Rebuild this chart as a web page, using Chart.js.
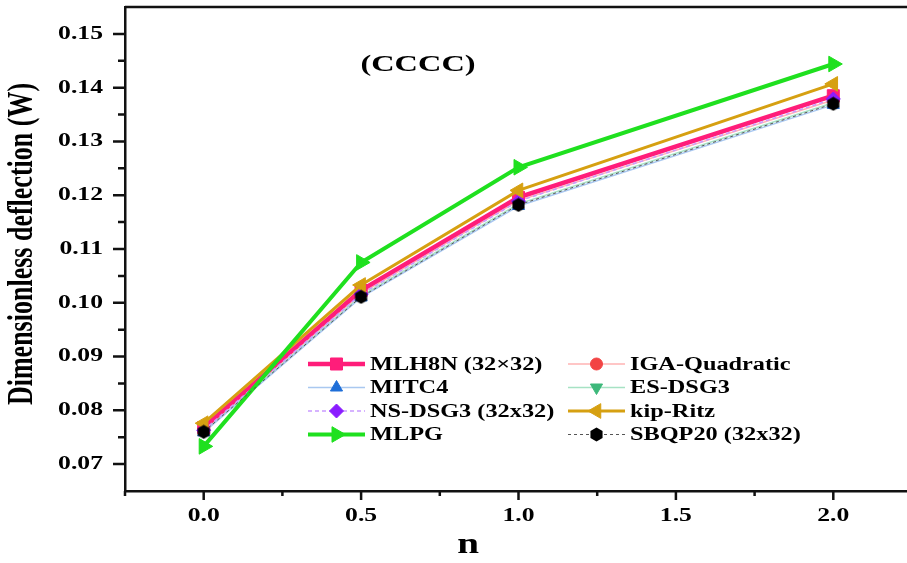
<!DOCTYPE html>
<html>
<head>
<meta charset="utf-8">
<script src="https://cdn.jsdelivr.net/npm/chart.js@4.4.0/dist/chart.umd.min.js"></script>
<style>
  html, body { margin: 0; padding: 0; background: #fff; overflow: hidden; }
  #wrap { width: 916px; height: 563px; }
</style>
</head>
<body>
<div id="wrap"><canvas id="deflectionChart"></canvas></div>
<script>
// Значения n (по оси X)
const N_VALUES = [0, 0.5, 1.0, 2.0];

// Безразмерный прогиб для каждого метода
const MLH8N = [0.0768, 0.1023, 0.1196, 0.1385];
const IGA_QUADRATIC = [0.0764, 0.1017, 0.1190, 0.1377];
const MITC4 = [0.0759, 0.1010, 0.1180, 0.1368];
const ES_DSG3 = [0.0761, 0.1013, 0.1184, 0.1372];
const NS_DSG3 = [0.0763, 0.1016, 0.1189, 0.1379];
const KIP_RITZ = [0.0776, 0.1033, 0.1209, 0.1407];
const MLPG = [0.0733, 0.1075, 0.1252, 0.1444];
const SBQP20 = [0.0760, 0.1011, 0.1182, 0.1370];

// Подписи делений
const X_TICKS = [0, 0.5, 1.0, 1.5, 2.0];
const X_MINOR = [-0.25, 0.25, 0.75, 1.25, 1.75];
const Y_TICKS = [0.07, 0.08, 0.09, 0.10, 0.11, 0.12, 0.13, 0.14, 0.15];
const Y_MINOR = [0.075, 0.085, 0.095, 0.105, 0.115, 0.125, 0.135, 0.145];

const SERIF = '"Liberation Serif", "Times New Roman", serif';
const STRETCH = 1.35; // текст на рисунке растянут по горизонтали

// Маркер-шестиугольник для SBQP20
function makeHexagon(size, color) {
    const c = document.createElement('canvas');
    c.width = size;
    c.height = size;
    const g = c.getContext('2d');
    const r = size / 2;
    g.fillStyle = color;
    g.beginPath();
    for (let i = 0; i < 6; i++) {
        const a = Math.PI / 6 + i * Math.PI / 3;
        const px = r + Math.cos(a) * (r - 0.5);
        const py = r + Math.sin(a) * (r - 0.5);
        if (i === 0) g.moveTo(px, py); else g.lineTo(px, py);
    }
    g.closePath();
    g.fill();
    return c;
}
const hexagon = makeHexagon(15, '#000');

function series(label, data, cfg) {
    return Object.assign({
        label: label,
        data: data,
        fill: false,
        tension: 0,
        pointBorderWidth: 1,
        pointRotation: 0
    }, cfg);
}

const datasets = [
    series('MLH8N (32×32)', MLH8N, {
        borderColor: '#ff1d7a', borderWidth: 4.5,
        pointStyle: 'rect', pointRadius: 8.5,
        pointBackgroundColor: '#ff1d7a', pointBorderColor: '#ff1d7a', order: 5,
        legendCol: 0, legendRow: 0
    }),
    series('IGA-Quadratic', IGA_QUADRATIC, {
        borderColor: '#ffb3b3', borderWidth: 1.5,
        pointStyle: 'circle', pointRadius: 6,
        pointBackgroundColor: '#f24444', pointBorderColor: '#f24444', order: 6,
        legendCol: 1, legendRow: 0
    }),
    series('MITC4', MITC4, {
        borderColor: '#a9c8f0', borderWidth: 1.5,
        pointStyle: 'triangle', pointRadius: 7,
        pointBackgroundColor: '#1f6fd8', pointBorderColor: '#1f6fd8', order: 7,
        legendCol: 0, legendRow: 1
    }),
    series('ES-DSG3', ES_DSG3, {
        borderColor: '#a6e2c4', borderWidth: 1.5,
        pointStyle: 'triangle', pointRotation: 180, pointRadius: 7,
        pointBackgroundColor: '#3db87a', pointBorderColor: '#3db87a', order: 8,
        legendCol: 1, legendRow: 1
    }),
    series('NS-DSG3 (32x32)', NS_DSG3, {
        borderColor: '#c99bff', borderWidth: 1.5, borderDash: [4, 3],
        pointStyle: 'rectRot', pointRadius: 7,
        pointBackgroundColor: '#8a1cff', pointBorderColor: '#8a1cff', order: 4,
        legendCol: 0, legendRow: 2
    }),
    series('kip-Ritz', KIP_RITZ, {
        borderColor: '#d6a011', borderWidth: 3,
        pointStyle: 'triangle', pointRotation: 270, pointRadius: 8.5,
        pointBackgroundColor: '#d6a011', pointBorderColor: '#d6a011', order: 3,
        legendCol: 1, legendRow: 2
    }),
    series('MLPG', MLPG, {
        borderColor: '#1fe01f', borderWidth: 4,
        pointStyle: 'triangle', pointRotation: 90, pointRadius: 9,
        pointBackgroundColor: '#1fe01f', pointBorderColor: '#1fe01f', order: 1,
        legendCol: 0, legendRow: 3
    }),
    series('SBQP20 (32x32)', SBQP20, {
        borderColor: '#555', borderWidth: 1, borderDash: [3, 3],
        pointStyle: hexagon, pointRadius: 7,
        pointBackgroundColor: '#000', pointBorderColor: '#000', order: 0,
        legendCol: 1, legendRow: 3
    })
];

function stretchedText(ctx, text, x, y, align) {
    ctx.save();
    ctx.translate(x, y);
    ctx.scale(STRETCH, 1);
    ctx.textAlign = align;
    ctx.textBaseline = 'middle';
    ctx.fillText(text, 0, 0);
    ctx.restore();
}

// Рамка, деления, подписи, заголовок и легенда
const decorPlugin = {
    id: 'decor',
    afterDraw(chart) {
        const ctx = chart.ctx;
        const area = chart.chartArea;
        const xs = chart.scales.x;
        const ys = chart.scales.y;

        ctx.save();
        ctx.strokeStyle = '#111';
        ctx.lineWidth = 2.5;

        // верхняя граница
        ctx.beginPath();
        ctx.moveTo(area.left, area.top);
        ctx.lineTo(area.right, area.top);
        ctx.stroke();

        // деления оси X
        ctx.beginPath();
        X_TICKS.forEach(v => {
            const px = xs.getPixelForValue(v);
            ctx.moveTo(px, area.bottom);
            ctx.lineTo(px, area.bottom + 9);
        });
        X_MINOR.forEach(v => {
            const px = xs.getPixelForValue(v);
            ctx.moveTo(px, area.bottom);
            ctx.lineTo(px, area.bottom + 5);
        });
        // деления оси Y
        Y_TICKS.forEach(v => {
            const py = ys.getPixelForValue(v);
            ctx.moveTo(area.left, py);
            ctx.lineTo(area.left - 12, py);
        });
        Y_MINOR.forEach(v => {
            const py = ys.getPixelForValue(v);
            ctx.moveTo(area.left, py);
            ctx.lineTo(area.left - 7, py);
        });
        ctx.stroke();

        ctx.fillStyle = '#000';
        ctx.font = 'bold 19px ' + SERIF;
        X_TICKS.forEach(v => {
            stretchedText(ctx, v.toFixed(1), xs.getPixelForValue(v), area.bottom + 25, 'center');
        });
        Y_TICKS.forEach(v => {
            stretchedText(ctx, v.toFixed(2), area.left - 22, ys.getPixelForValue(v), 'right');
        });

        // подписи осей
        ctx.font = 'bold 29px ' + SERIF;
        stretchedText(ctx, 'n', xs.getPixelForValue(0.84), 546, 'center');

        ctx.save();
        ctx.translate(23, 244);
        ctx.scale(STRETCH, 1);
        ctx.rotate(-Math.PI / 2);
        ctx.font = 'bold 26px ' + SERIF;
        ctx.textAlign = 'center';
        ctx.textBaseline = 'middle';
        ctx.fillText('Dimensionless deflection (W)', 0, 0);
        ctx.restore();

        // заголовок
        ctx.font = 'bold 24px ' + SERIF;
        stretchedText(ctx, '(CCCC)', 418, 65, 'center');

        // легенда в две колонки
        const colX = [308, 568];
        const lineLen = 57;
        ctx.font = 'bold 18px ' + SERIF;
        chart.data.datasets.forEach(ds => {
            const x0 = colX[ds.legendCol];
            const y0 = 364 + ds.legendRow * 23.5;
            ctx.save();
            ctx.strokeStyle = ds.borderColor;
            ctx.lineWidth = ds.borderWidth;
            ctx.setLineDash(ds.borderDash || []);
            ctx.beginPath();
            ctx.moveTo(x0, y0);
            ctx.lineTo(x0 + lineLen, y0);
            ctx.stroke();
            ctx.setLineDash([]);
            ctx.fillStyle = ds.pointBackgroundColor;
            ctx.strokeStyle = ds.pointBorderColor;
            ctx.lineWidth = 1;
            Chart.helpers.drawPoint(ctx, {
                pointStyle: ds.pointStyle,
                rotation: ds.pointRotation,
                radius: ds.pointRadius,
                borderWidth: 1
            }, x0 + lineLen / 2, y0);
            ctx.restore();
            ctx.fillStyle = '#000';
            stretchedText(ctx, ds.label, x0 + lineLen + 5, y0 + 1, 'left');
        });
        ctx.restore();
    }
};

const chart = new Chart(document.getElementById('deflectionChart').getContext('2d'), {
    type: 'line',
    data: {
        datasets: datasets.map(ds => Object.assign({}, ds, {
            data: ds.data.map((v, i) => ({ x: N_VALUES[i], y: v }))
        }))
    },
    options: {
        responsive: true,
        maintainAspectRatio: false,
        animation: false,
        devicePixelRatio: 1,
        layout: { autoPadding: false, padding: { top: 7, right: 4, left: 0, bottom: 0 } },
        plugins: {
            legend: { display: false },
            tooltip: { enabled: false }
        },
        scales: {
            x: {
                type: 'linear',
                min: -0.25,
                max: 2.25,
                grid: { display: false },
                border: { display: true, color: '#111', width: 2.5 },
                ticks: { display: false },
                afterFit: scale => { scale.height = 72; }
            },
            y: {
                type: 'linear',
                min: 0.065,
                max: 0.155,
                grid: { display: false },
                border: { display: true, color: '#111', width: 2.5 },
                ticks: { display: false },
                afterFit: scale => { scale.width = 125; }
            }
        }
    },
    plugins: [decorPlugin]
});
</script>
</body>
</html>
